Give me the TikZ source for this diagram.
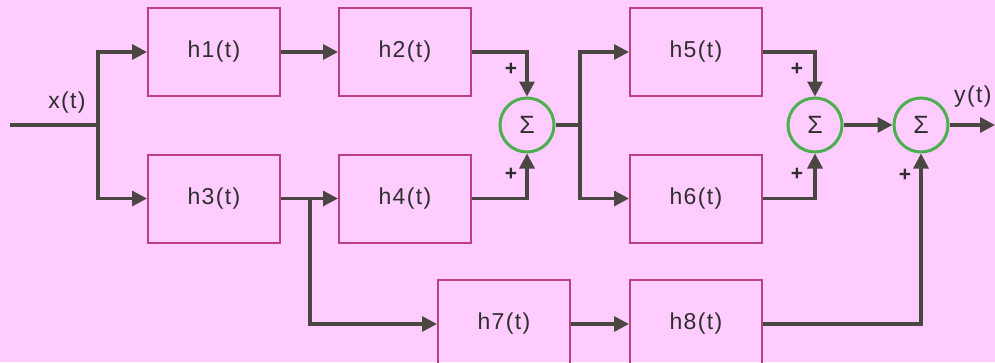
\documentclass[tikz,border=0pt]{standalone}
\usepackage{fontspec}
\setmainfont{Liberation Sans}
\newfontfamily\spacedfont[LetterSpace=6]{Liberation Sans}
\usetikzlibrary{arrows.meta}
\definecolor{bgc}{HTML}{FFCCFF}
\definecolor{linec}{HTML}{4A4743}
\definecolor{boxc}{HTML}{BC3F80}
\definecolor{sumc}{HTML}{4CAF50}
\definecolor{txtc}{HTML}{2E2E2E}
\tikzset{
  blockbox/.style={draw=boxc, line width=2pt, minimum width=132pt, minimum height=88pt, inner sep=0pt, font=\spacedfont\fontsize{23}{26}\selectfont, text=txtc},
  sumnode/.style={draw=sumc, line width=3pt, circle, minimum size=54pt, inner sep=0pt, font=\fontsize{25}{27}\selectfont, text=txtc},
  conn/.style={draw=linec, line width=3.3pt},
  arr/.style={conn, -{Triangle[length=15pt,width=15pt]}},
  plus/.style={font=\fontsize{21}{23}\selectfont\bfseries, text=txtc, inner sep=0pt},
  lab/.style={font=\spacedfont\fontsize{23}{26}\selectfont, text=txtc, inner sep=0pt}
}
\begin{document}
\begin{tikzpicture}[x=1pt,y=-1pt]
\useasboundingbox (0,0) rectangle (995,362);
\fill[bgc] (0,0) rectangle (995,362);
\clip (0,0) rectangle (995,362);
\node[blockbox] (h1) at (214,52) {h1(t)};
\node[blockbox] (h2) at (405,52) {h2(t)};
\node[blockbox] (h3) at (214,198.5) {h3(t)};
\node[blockbox] (h4) at (405,198.5) {h4(t)};
\node[blockbox] (h5) at (696,52) {h5(t)};
\node[blockbox] (h6) at (696,198.5) {h6(t)};
\node[blockbox] (h7) at (504,324) {h7(t)};
\node[blockbox] (h8) at (696,324) {h8(t)};
\node[sumnode] (s1) at (527,125) {Σ};
\node[sumnode] (s2) at (815,125) {Σ};
\node[sumnode] (s3) at (921,125) {Σ};
\coordinate (in) at (10,125);
\coordinate (j1) at (98,125);
\coordinate (j2) at (580,125);
\coordinate (j3) at (310,198.5);
\coordinate (out) at (995,125);
\node[lab] (xl) at (67,103) {x(t)};
\node[lab, anchor=west] (yl) at (954,97) {y(t)};
\node[plus] (p1) at (511,69) {+};
\node[plus] (p2) at (511,174) {+};
\node[plus] (p3) at (797,69) {+};
\node[plus] (p4) at (797,174) {+};
\node[plus] (p5) at (905,175) {+};
\draw[conn] (in) -- (j1);
\draw[arr] (j1) |- (h1);
\draw[arr] (j1) |- (h3);
\draw[arr] (h1) -- (h2);
\draw[arr] (h2) -| (s1);
\draw[arr] (h4) -| (s1);
\draw[conn] (s1) -- (j2);
\draw[arr] (j2) |- (h5);
\draw[arr] (j2) |- (h6);
\draw[arr] (h3) -- (h4);
\draw[arr] (j3) |- (h7);
\draw[arr] (h7) -- (h8);
\draw[arr] (h5) -| (s2);
\draw[arr] (h6) -| (s2);
\draw[arr] (s2) -- (s3);
\draw[arr] (h8) -| (s3);
\draw[arr] (s3) -- (out);
\end{tikzpicture}
\end{document}
